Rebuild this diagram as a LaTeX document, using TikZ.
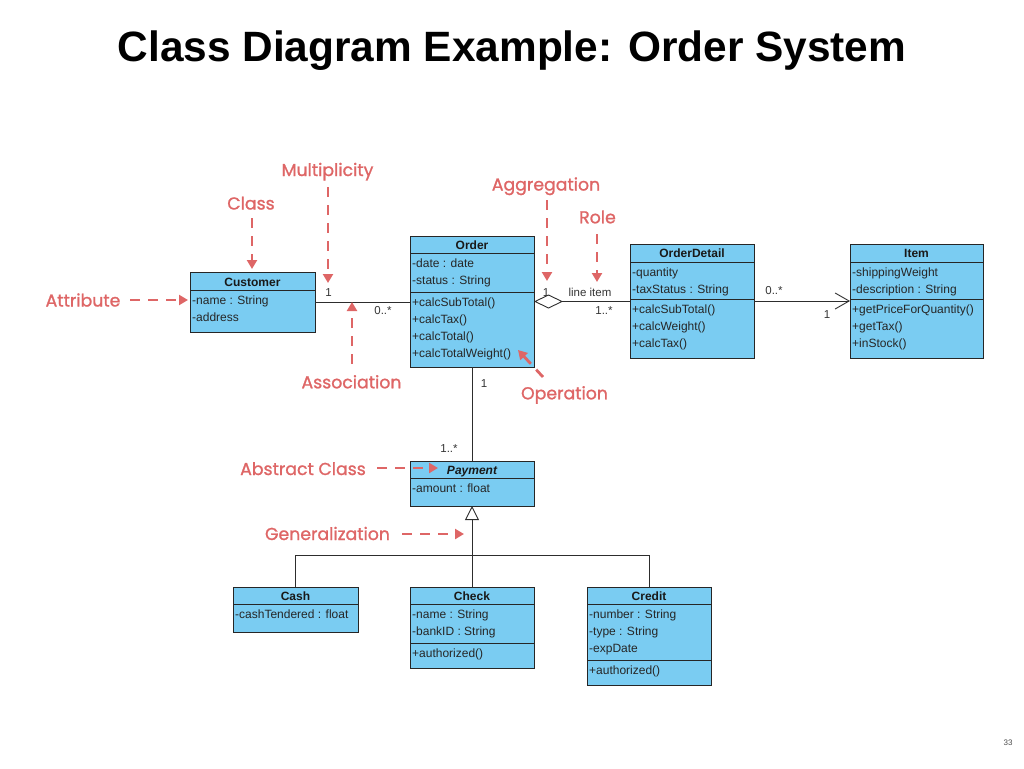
\documentclass[tikz,border=0pt]{standalone}
\usepackage{fontspec}
\setmainfont{Liberation Sans}
\newfontfamily\annfont{Poppins}[FakeBold=1.2]
\usetikzlibrary{arrows.meta,calc}
\definecolor{clsfill}{RGB}{122,204,242}
\definecolor{annred}{RGB}{222,102,102}
\definecolor{lnk}{RGB}{45,45,45}
\begin{document}
\begin{tikzpicture}[x=1pt,y=-1pt,
  cls/.style={draw=black!85, line width=1pt, fill=clsfill, anchor=north west, inner sep=0pt, outer sep=0pt},
  sep/.style={draw=black!85, line width=1pt},
  ctitle/.style={font=\fontsize{12}{14}\selectfont\bfseries, anchor=base, inner sep=0pt, text=black!90},
  ctext/.style={font=\fontsize{12}{14}\selectfont, anchor=base west, inner sep=0pt, text=black!85},
  mult/.style={font=\fontsize{11.5}{13}\selectfont, anchor=base, inner sep=0pt, text=black!80},
  link/.style={draw=lnk, line width=0.9pt},
  ann/.style={font=\annfont\fontsize{17.3}{20}\selectfont, text=annred, anchor=base, inner sep=0pt},
  annarrow/.style={draw=annred, line width=2.8pt, dash pattern=on 10pt off 8pt, -{Triangle[length=9pt,width=10pt]}}
]
\useasboundingbox (0,0) rectangle (1024,768);

% title
\node[font=\fontsize{42.4}{50}\selectfont\bfseries, anchor=base, inner sep=0pt] (title) at (512,61) {Class Diagram Example: Order System};
\node[font=\fontsize{8}{9}\selectfont, text=black!70, anchor=base, inner sep=0pt] (pagenum) at (1008,745) {33};

% ---------- Customer ----------
\node[cls, minimum width=125pt, minimum height=60pt] (customer) at (190,272) {};
\draw[sep] (190,290) -- (315,290);
\node[ctitle] (customer-t) at (252.5,286) {Customer};
\node[ctext] (customer-a1) at (192,304.5) {-name : String};
\node[ctext] (customer-a2) at (192,321.5) {-address};

% ---------- Order ----------
\node[cls, minimum width=124pt, minimum height=131pt] (order) at (410,236) {};
\draw[sep] (410,253) -- (534,253);
\draw[sep] (410,292) -- (534,292);
\node[ctitle] (order-t) at (472,249.5) {Order};
\node[ctext] (order-a1) at (412,267.5) {-date : date};
\node[ctext] (order-a2) at (412,284.5) {-status : String};
\node[ctext] (order-o1) at (412,306.5) {+calcSubTotal()};
\node[ctext] (order-o2) at (412,323.5) {+calcTax()};
\node[ctext] (order-o3) at (412,340.5) {+calcTotal()};
\node[ctext] (order-o4) at (412,357.5) {+calcTotalWeight()};

% ---------- OrderDetail ----------
\node[cls, minimum width=124pt, minimum height=114pt] (orderdetail) at (630,244) {};
\draw[sep] (630,262) -- (754,262);
\draw[sep] (630,299) -- (754,299);
\node[ctitle] (orderdetail-t) at (692,257.5) {OrderDetail};
\node[ctext] (orderdetail-a1) at (632,276.5) {-quantity};
\node[ctext] (orderdetail-a2) at (632,293.5) {-taxStatus : String};
\node[ctext] (orderdetail-o1) at (632,313.5) {+calcSubTotal()};
\node[ctext] (orderdetail-o2) at (632,330.5) {+calcWeight()};
\node[ctext] (orderdetail-o3) at (632,347.5) {+calcTax()};

% ---------- Item ----------
\node[cls, minimum width=133pt, minimum height=114pt] (item) at (850,244) {};
\draw[sep] (850,262) -- (983,262);
\draw[sep] (850,299) -- (983,299);
\node[ctitle] (item-t) at (916.5,257.5) {Item};
\node[ctext] (item-a1) at (852,276.5) {-shippingWeight};
\node[ctext] (item-a2) at (852,293.5) {-description : String};
\node[ctext] (item-o1) at (852,313.5) {+getPriceForQuantity()};
\node[ctext] (item-o2) at (852,330.5) {+getTax()};
\node[ctext] (item-o3) at (852,347.5) {+inStock()};

% ---------- Payment ----------
\node[cls, minimum width=124pt, minimum height=45pt] (payment) at (410,461) {};
\draw[sep] (410,478) -- (534,478);
\node[ctitle, font=\fontsize{12}{14}\selectfont\bfseries\itshape] (payment-t) at (472,474.5) {Payment};
\node[ctext] (payment-a1) at (412,492.5) {-amount : float};

% ---------- Cash ----------
\node[cls, minimum width=125pt, minimum height=45pt] (cash) at (233,587) {};
\draw[sep] (233,604) -- (358,604);
\node[ctitle] (cash-t) at (295.5,600.5) {Cash};
\node[ctext] (cash-a1) at (235,618.5) {-cashTendered : float};

% ---------- Check ----------
\node[cls, minimum width=124pt, minimum height=81pt] (check) at (410,587) {};
\draw[sep] (410,604) -- (534,604);
\draw[sep] (410,643) -- (534,643);
\node[ctitle] (check-t) at (472,600.5) {Check};
\node[ctext] (check-a1) at (412,618.5) {-name : String};
\node[ctext] (check-a2) at (412,635.5) {-bankID : String};
\node[ctext] (check-o1) at (412,657.5) {+authorized()};

% ---------- Credit ----------
\node[cls, minimum width=124pt, minimum height=98pt] (credit) at (587,587) {};
\draw[sep] (587,604) -- (711,604);
\draw[sep] (587,660) -- (711,660);
\node[ctitle] (credit-t) at (649,600.5) {Credit};
\node[ctext] (credit-a1) at (589,618.5) {-number : String};
\node[ctext] (credit-a2) at (589,635.5) {-type : String};
\node[ctext] (credit-a3) at (589,652.5) {-expDate};
\node[ctext] (credit-o1) at (589,674.5) {+authorized()};

% ---------- connectors ----------
\draw[link] (customer.east) -- (customer.east -| order.west);
\draw[link, {Diamond[open,length=29pt,width=14pt]}-] (order.east) -- (order.east -| orderdetail.west);
\draw[link, -{Straight Barb[length=14pt,width=16pt]}] (orderdetail.east) -- (orderdetail.east -| item.west);
\draw[link] (order.south) -- (payment.north);
\coordinate (gj) at (472,555);
\draw[link, {Triangle[open,length=14pt,width=14pt]}-] (payment.south) -- (gj);
\draw[link] (cash.north) -- (cash.north |- gj) -- (credit.north |- gj) -- (credit.north);
\draw[link] (gj) -- (check.north);

% multiplicities / role
\node[mult] (m-cust1) at (328.5,296) {1};
\node[mult] (m-cust2) at (383,314) {0..*};
\node[mult] (m-ord1) at (546,296) {1};
\node[mult] (m-role) at (590,296.5) {line item};
\node[mult] (m-od1) at (604,314) {1..*};
\node[mult] (m-od2) at (774,294.5) {0..*};
\node[mult] (m-item) at (827,318) {1};
\node[mult] (m-ord2) at (484,387) {1};
\node[mult] (m-pay) at (449,452) {1..*};

% ---------- annotations ----------
\node[ann] (n-mult) at (327.5,176) {Multiplicity};
\node[ann] (n-class) at (251,209.5) {Class};
\node[ann] (n-attr) at (83,306.5) {Attribute};
\node[ann] (n-assoc) at (351.5,388.3) {Association};
\node[ann] (n-aggr) at (546,190.5) {Aggregation};
\node[ann] (n-role) at (597.5,223.3) {Role};
\node[ann] (n-oper) at (564.5,399.3) {Operation};
\node[ann] (n-abs) at (303,475) {Abstract Class};
\node[ann] (n-gen) at (327.5,540) {Generalization};

\coordinate (c-mult-s) at (328,187);   \coordinate (c-mult-e) at (328,283);
\coordinate (c-class-s) at (252,218);  \coordinate (c-class-e) at (252,269);
\coordinate (c-attr-s) at (130,300);   \coordinate (c-attr-e) at (188,300);
\coordinate (c-assoc-s) at (352,364);  \coordinate (c-assoc-e) at (352,302);
\coordinate (c-aggr-s) at (547,200);   \coordinate (c-aggr-e) at (547,281);
\coordinate (c-role-s) at (597,234);   \coordinate (c-role-e) at (597,282);
\coordinate (c-oper-s) at (543,377);   \coordinate (c-oper-e) at (518,350);
\coordinate (c-abs-s) at (377,468);    \coordinate (c-abs-e) at (438,468);
\coordinate (c-gen-s) at (402,534);    \coordinate (c-gen-e) at (464,534);

\draw[annarrow] (c-mult-s) -- (c-mult-e);
\draw[annarrow] (c-class-s) -- (c-class-e);
\draw[annarrow] (c-attr-s) -- (c-attr-e);
\draw[annarrow] (c-assoc-s) -- (c-assoc-e);
\draw[annarrow] (c-aggr-s) -- (c-aggr-e);
\draw[annarrow] (c-role-s) -- (c-role-e);
\draw[annarrow] (c-oper-s) -- (c-oper-e);
\draw[annarrow] (c-abs-s) -- (c-abs-e);
\draw[annarrow] (c-gen-s) -- (c-gen-e);
\end{tikzpicture}
\end{document}
